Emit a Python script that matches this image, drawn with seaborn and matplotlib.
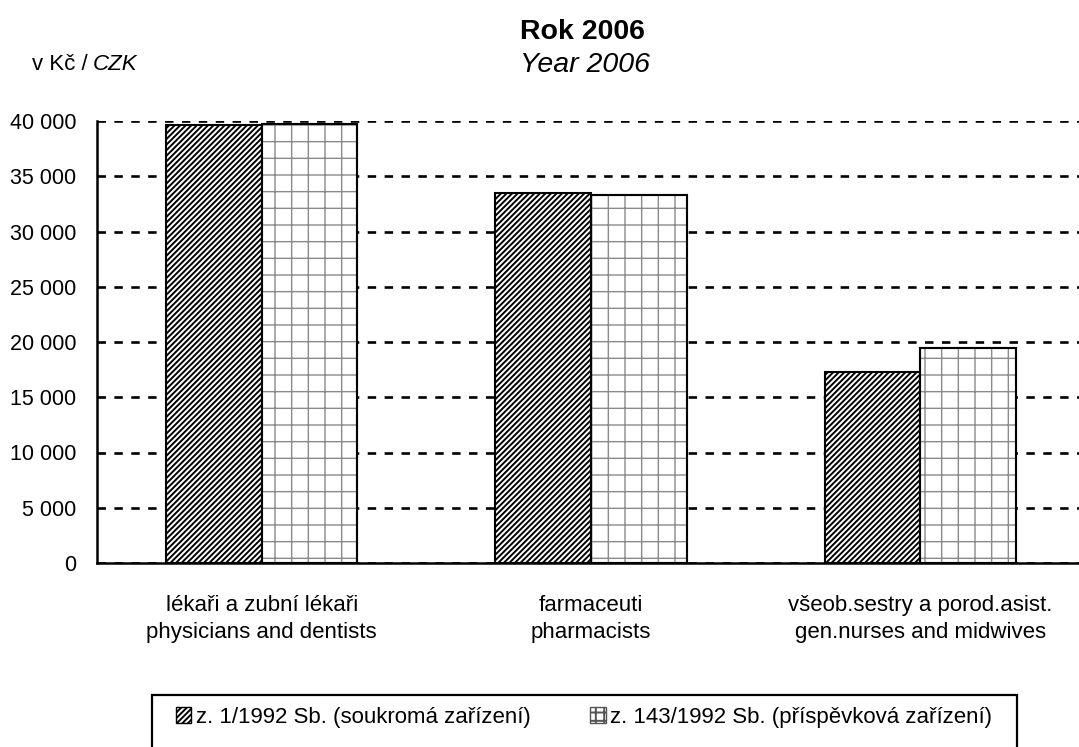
import pandas as pd
import matplotlib.pyplot as plt
import matplotlib.patches as mpatches
import seaborn as sns

categories = ["lékaři a zubní lékaři\nphysicians and dentists",
              "farmaceuti\npharmacists",
              "všeob.sestry a porod.asist.\ngen.nurses and midwives"]
series = ["z. 1/1992 Sb. (soukromá zařízení)",
          "z. 143/1992 Sb. (příspěvková zařízení)"]
private_vals = [39650, 33500, 17250]
contrib_vals = [39750, 33300, 19500]
yticks = [0, 5000, 10000, 15000, 20000, 25000, 30000, 35000, 40000]
ytick_labels = ["0", "5 000", "10 000", "15 000", "20 000", "25 000", "30 000", "35 000", "40 000"]

df = pd.DataFrame({
    "cat": categories * 2,
    "ser": [series[0]] * 3 + [series[1]] * 3,
    "val": private_vals + contrib_vals,
})

sns.set_style("white")
plt.rcParams["font.family"] = ["Liberation Sans", "DejaVu Sans"]
for k in ["text.color", "xtick.color", "ytick.color", "xtick.labelcolor", "ytick.labelcolor"]:
    plt.rcParams[k] = "black"
plt.rcParams["hatch.linewidth"] = 1.4

fig = plt.figure(figsize=(10.79, 7.47), dpi=100)
ax = fig.add_axes([97 / 1079, 1 - 563 / 747, 988 / 1079, 442 / 747])

sns.barplot(data=df, x="cat", y="val", hue="ser", hue_order=series, order=categories,
            width=0.58, gap=0, palette=["white", "white"], edgecolor="black",
            linewidth=1.5, legend=False, ax=ax, zorder=3)

# hatches: dense diagonals for the first series, grey grid for the second
n = len(categories)
for i, p in enumerate(ax.patches[:2 * n]):
    if i < n:
        p.set_hatch("//////")
        p.set_edgecolor("black")
    else:
        p.set_hatch("+")
        p.set_edgecolor("#8a8a8a")
        if hasattr(p, "set_hatch_linewidth"):
            p.set_hatch_linewidth(1.0)
        outline = mpatches.Rectangle(p.get_xy(), p.get_width(), p.get_height(),
                                     fill=False, edgecolor="black", linewidth=1.5, zorder=4)
        ax.add_patch(outline)

ax.set_xlim(-0.5, n - 0.5)
ax.set_ylim(0, 40000)
ax.set_yticks(yticks)
ax.set_yticklabels(ytick_labels, fontsize=15.5)
ax.yaxis.grid(True, color="black", linestyle=(0, (3.2, 3.2)), linewidth=1.9, zorder=0)
ax.set_axisbelow(True)

# category boundaries as major ticks, labels on minor ticks
ax.set_xticks([-0.5 + k for k in range(n + 1)])
ax.set_xticklabels([])
ax.set_xticks(range(n), minor=True)
ax.set_xticklabels(categories, minor=True, fontsize=16, linespacing=1.4)
ax.tick_params(axis="x", which="minor", length=0, pad=23)
ax.tick_params(axis="x", which="major", direction="out", length=6, width=1.5)
ax.tick_params(axis="y", direction="out", length=7, width=1.5, pad=8)
ax.set_xlabel("")
ax.set_ylabel("")

for s in ["top", "right"]:
    ax.spines[s].set_visible(False)
for s in ["left", "bottom"]:
    ax.spines[s].set_color("black")
    ax.spines[s].set_linewidth(1.8)
    ax.spines[s].set_zorder(5)

# titles
fig.text(582 / 1079, 1 - 32 / 747, "Rok 2006", ha="center", va="center",
         fontsize=20.5, fontweight="bold")
fig.text(585 / 1079, 1 - 65 / 747, "Year 2006", ha="center", va="center",
         fontsize=20.5, style="italic")
fig.text(32 / 1079, 1 - 65 / 747, "v Kč /", ha="left", va="center", fontsize=16)
fig.text(93 / 1079, 1 - 65 / 747, "CZK", ha="left", va="center", fontsize=16, style="italic")

# legend: entries plus a frame running off the bottom edge
handles = [mpatches.Patch(facecolor="white", edgecolor="black", hatch="//////", label=series[0]),
           mpatches.Patch(facecolor="white", edgecolor="#555555", hatch="++", label=series[1])]
leg = fig.legend(handles=handles, loc="center", bbox_to_anchor=(584 / 1079, 1 - 717 / 747),
                 ncol=2, frameon=False, fontsize=16, handlelength=0.7, handleheight=0.7,
                 handletextpad=0.2, columnspacing=2.7, borderaxespad=0)
frame = mpatches.Rectangle((152 / 1079, -0.05), 865 / 1079, 0.05 + 1 - 695 / 747,
                           transform=fig.transFigure, fill=False, edgecolor="black",
                           linewidth=1.6)
fig.add_artist(frame)

fig.savefig("out.png", dpi=100)
